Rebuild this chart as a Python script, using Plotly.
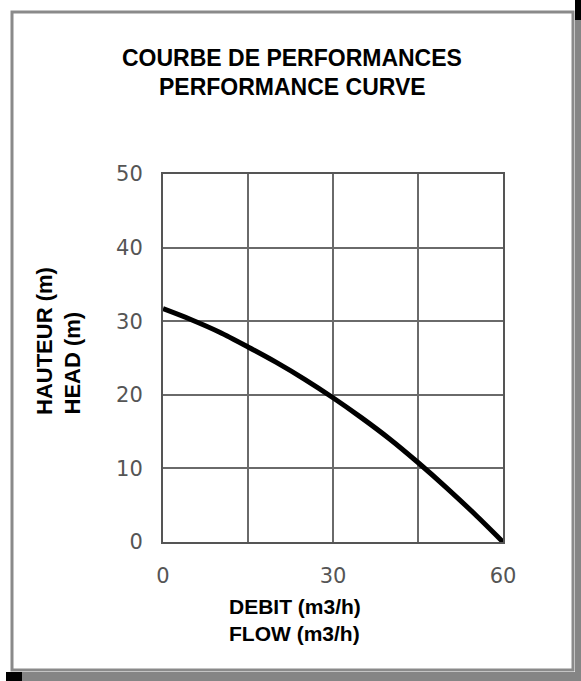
import plotly.graph_objects as go

# Data
flow = [0, 5, 10, 15, 20, 25, 30, 35, 40, 45, 50, 55, 60]
head = [31.7, 30.2, 28.5, 26.5, 24.4, 22.1, 19.6, 16.9, 14.0, 10.8, 7.4, 3.8, 0.0]

x_tickvals = [0, 15, 30, 45, 60]
x_ticktext = ["0", "", "30", "", "60"]
y_tickvals = [0, 10, 20, 30, 40, 50]

title_lines = ["COURBE DE PERFORMANCES", "PERFORMANCE CURVE"]
xtitle_lines = ["DEBIT (m3/h)", "FLOW (m3/h)"]
ytitle_lines = ["HAUTEUR (m)", "HEAD (m)"]

W, H = 581, 681
L, R, T, B = 163, 503, 174, 542


def px(x):
    return (x - L) / (R - L)


def py(y):
    return (B - y) / (B - T)


fig = go.Figure()
fig.add_trace(go.Scatter(x=flow, y=head, mode="lines",
                         line=dict(color="black", width=5, shape="spline", smoothing=0.8),
                         hoverinfo="skip", showlegend=False))

grid = "#6a6a6a"
tickfont = dict(family="DejaVu Sans", size=21, color="#555555")

fig.update_xaxes(range=[0, 60], tickvals=x_tickvals, ticktext=x_ticktext, showgrid=True, gridcolor=grid,
                 gridwidth=2, showline=True, linecolor="#555555", linewidth=2, mirror=True, zeroline=False,
                 ticks="", tickfont=tickfont, ticklabelstandoff=14, fixedrange=True)
fig.update_yaxes(range=[0, 50], tickvals=y_tickvals, showgrid=True, gridcolor=grid, gridwidth=2,
                 showline=True, linecolor="#555555", linewidth=2, mirror=True, zeroline=False,
                 ticks="", tickfont=tickfont, ticklabelstandoff=14, fixedrange=True)

tfont = dict(family="Liberation Sans", size=23, color="black")
xfont = dict(family="Liberation Sans", size=21, color="black")
yfont = dict(family="Liberation Sans", size=22, color="black")
ann = []
for i, t in enumerate(title_lines):
    ann.append(dict(text="<b>%s</b>" % t, x=px(292), y=py([58, 87][i]), xref="paper", yref="paper",
                    showarrow=False, xanchor="center", yanchor="middle", font=tfont))
for i, t in enumerate(xtitle_lines):
    ann.append(dict(text="<b>%s</b>" % t, x=px(227), y=py([606, 633][i]), xref="paper", yref="paper",
                    showarrow=False, xanchor="left", yanchor="middle", font=xfont))
for i, t in enumerate(ytitle_lines):
    ann.append(dict(text="<b>%s</b>" % t, x=px([44, 72][i]), y=py(417), xref="paper", yref="paper",
                    showarrow=False, xanchor="center", yanchor="bottom", textangle=-90, font=yfont))

shapes = [
    # frame
    dict(type="rect", xref="paper", yref="paper", x0=px(12), x1=px(573), y0=py(12), y1=py(670),
         line=dict(color="#8a8a8a", width=3), layer="below"),
    # right shadow
    dict(type="rect", xref="paper", yref="paper", x0=px(575), x1=px(582), y0=py(0), y1=py(682),
         line=dict(width=0), fillcolor="#858585"),
    dict(type="rect", xref="paper", yref="paper", x0=px(575), x1=px(582), y0=py(0), y1=py(20),
         line=dict(width=0), fillcolor="black"),
    # bottom shadow
    dict(type="rect", xref="paper", yref="paper", x0=px(6), x1=px(582), y0=py(672), y1=py(682),
         line=dict(width=0), fillcolor="#858585"),
    dict(type="rect", xref="paper", yref="paper", x0=px(6), x1=px(22), y0=py(672), y1=py(682),
         line=dict(width=0), fillcolor="black"),
]

fig.update_layout(width=W, height=H, margin=dict(l=L, r=W - R, t=T, b=H - B), paper_bgcolor="white",
                  plot_bgcolor="white", annotations=ann, shapes=shapes, showlegend=False)

fig.write_html("out.html", config={"displayModeBar": False, "staticPlot": True},
               post_script="document.body.style.margin='0';document.body.style.overflow='hidden';")
